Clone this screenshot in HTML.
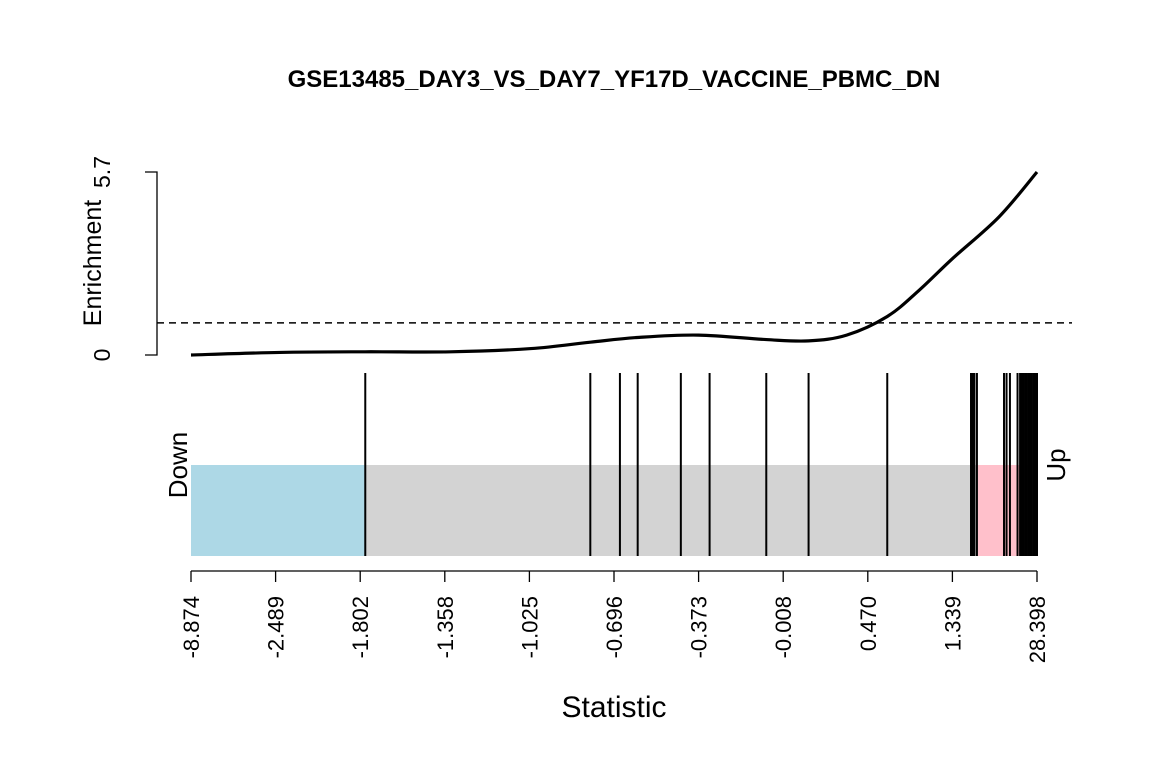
<!DOCTYPE html>
<html><head><meta charset="utf-8"><style>body{margin:0;background:#fff}svg text{font-family:"Liberation Sans",sans-serif}</style></head>
<body>
<svg id="c" width="1152" height="768" xmlns="http://www.w3.org/2000/svg">
<text x="614" y="87" text-anchor="middle" font-size="24" font-weight="bold">GSE13485_DAY3_VS_DAY7_YF17D_VACCINE_PBMC_DN</text>
<text x="614" y="717" text-anchor="middle" font-size="30">Statistic</text>
<text transform="translate(101,263) rotate(-90)" text-anchor="middle" font-size="25">Enrichment</text>
<text transform="translate(187,465) rotate(-90)" text-anchor="middle" font-size="26">Down</text>
<text transform="translate(1065,465) rotate(-90)" text-anchor="middle" font-size="26">Up</text>
<g id="g"></g>
</svg>
<script>
const tickLabels=["-8.874","-2.489","-1.802","-1.358","-1.025","-0.696","-0.373","-0.008","0.470","1.339","28.398"];
const geneRanks=[0.206,0.472,0.507,0.528,0.579,0.613,0.680,0.730,0.823,0.922,0.924,0.926,0.929,0.961,0.964,0.968,0.977,0.980,0.982,0.984,0.986,0.988,0.990,0.992,0.994,0.996,0.998,1.0];
const curveX=[0,0.105,0.206,0.307,0.402,0.472,0.530,0.600,0.680,0.730,0.775,0.823,0.860,0.900,0.955,1.0];
const curveY=[0,0.08,0.1,0.1,0.2,0.4,0.55,0.62,0.48,0.44,0.62,1.2,2.0,3.0,4.3,5.7];
const yMax=5.7, dashY=1.0, blueEnd=0.206, pinkStart=0.930, pinkEnd=0.980;
const NS="http://www.w3.org/2000/svg",g=document.getElementById('g');
const X=f=>191+f*846, Y=v=>355-v/yMax*183;
function mk(t,a){const e=document.createElementNS(NS,t);for(const k in a)e.setAttribute(k,a[k]);g.appendChild(e);return e;}
let e;
e=mk('rect',{x:X(0),y:465,width:846,height:91,fill:'#d3d3d3'});


e=mk('rect',{x:X(0),y:465,width:X(blueEnd)-X(0),height:91,fill:'#add8e6'});


e=mk('rect',{x:X(pinkStart),y:465,width:X(pinkEnd)-X(pinkStart),height:91,fill:'#ffc0cb'});


geneRanks.forEach(r=>{e=mk('line',{x1:X(r),x2:X(r),y1:373,y2:556,stroke:'#000','stroke-width':2});

});
e=mk('path',{d:`M${X(0)} 571H${X(1)}`,stroke:'#000','stroke-width':1.3,fill:'none'});


tickLabels.forEach((t,i)=>{const x=X(i/10);
e=mk('line',{x1:x,x2:x,y1:571,y2:582,stroke:'#000','stroke-width':1.3});


e=mk('text',{transform:`translate(${x+8},596) rotate(-90)`,'text-anchor':'end','font-size':22});e.textContent=t;

});
e=mk('path',{d:`M145 ${Y(yMax)}H157V${Y(0)}H145`,stroke:'#000','stroke-width':1.3,fill:'none'});


[[0,'0'],[yMax,'5.7']].forEach(([v,t])=>{e=mk('text',{transform:`translate(110,${Y(v)}) rotate(-90)`,'text-anchor':'middle','font-size':23});e.textContent=t;

});
e=mk('line',{x1:157,x2:1072,y1:Y(dashY),y2:Y(dashY),stroke:'#000','stroke-width':1.5,'stroke-dasharray':'7,5'});


const P=curveX.map((x,i)=>[X(x),Y(curveY[i])]);
let d=`M${P[0][0]} ${P[0][1]}`;
for(let i=0;i<P.length-1;i++){const p0=P[i-1]||P[i],p1=P[i],p2=P[i+1],p3=P[i+2]||P[i+1];
d+=`C${p1[0]+(p2[0]-p0[0])/6} ${p1[1]+(p2[1]-p0[1])/6} ${p2[0]-(p3[0]-p1[0])/6} ${p2[1]-(p3[1]-p1[1])/6} ${p2[0]} ${p2[1]}`;}
e=mk('path',{d,stroke:'#000','stroke-width':3.2,fill:'none'});


</script>
</body></html>
